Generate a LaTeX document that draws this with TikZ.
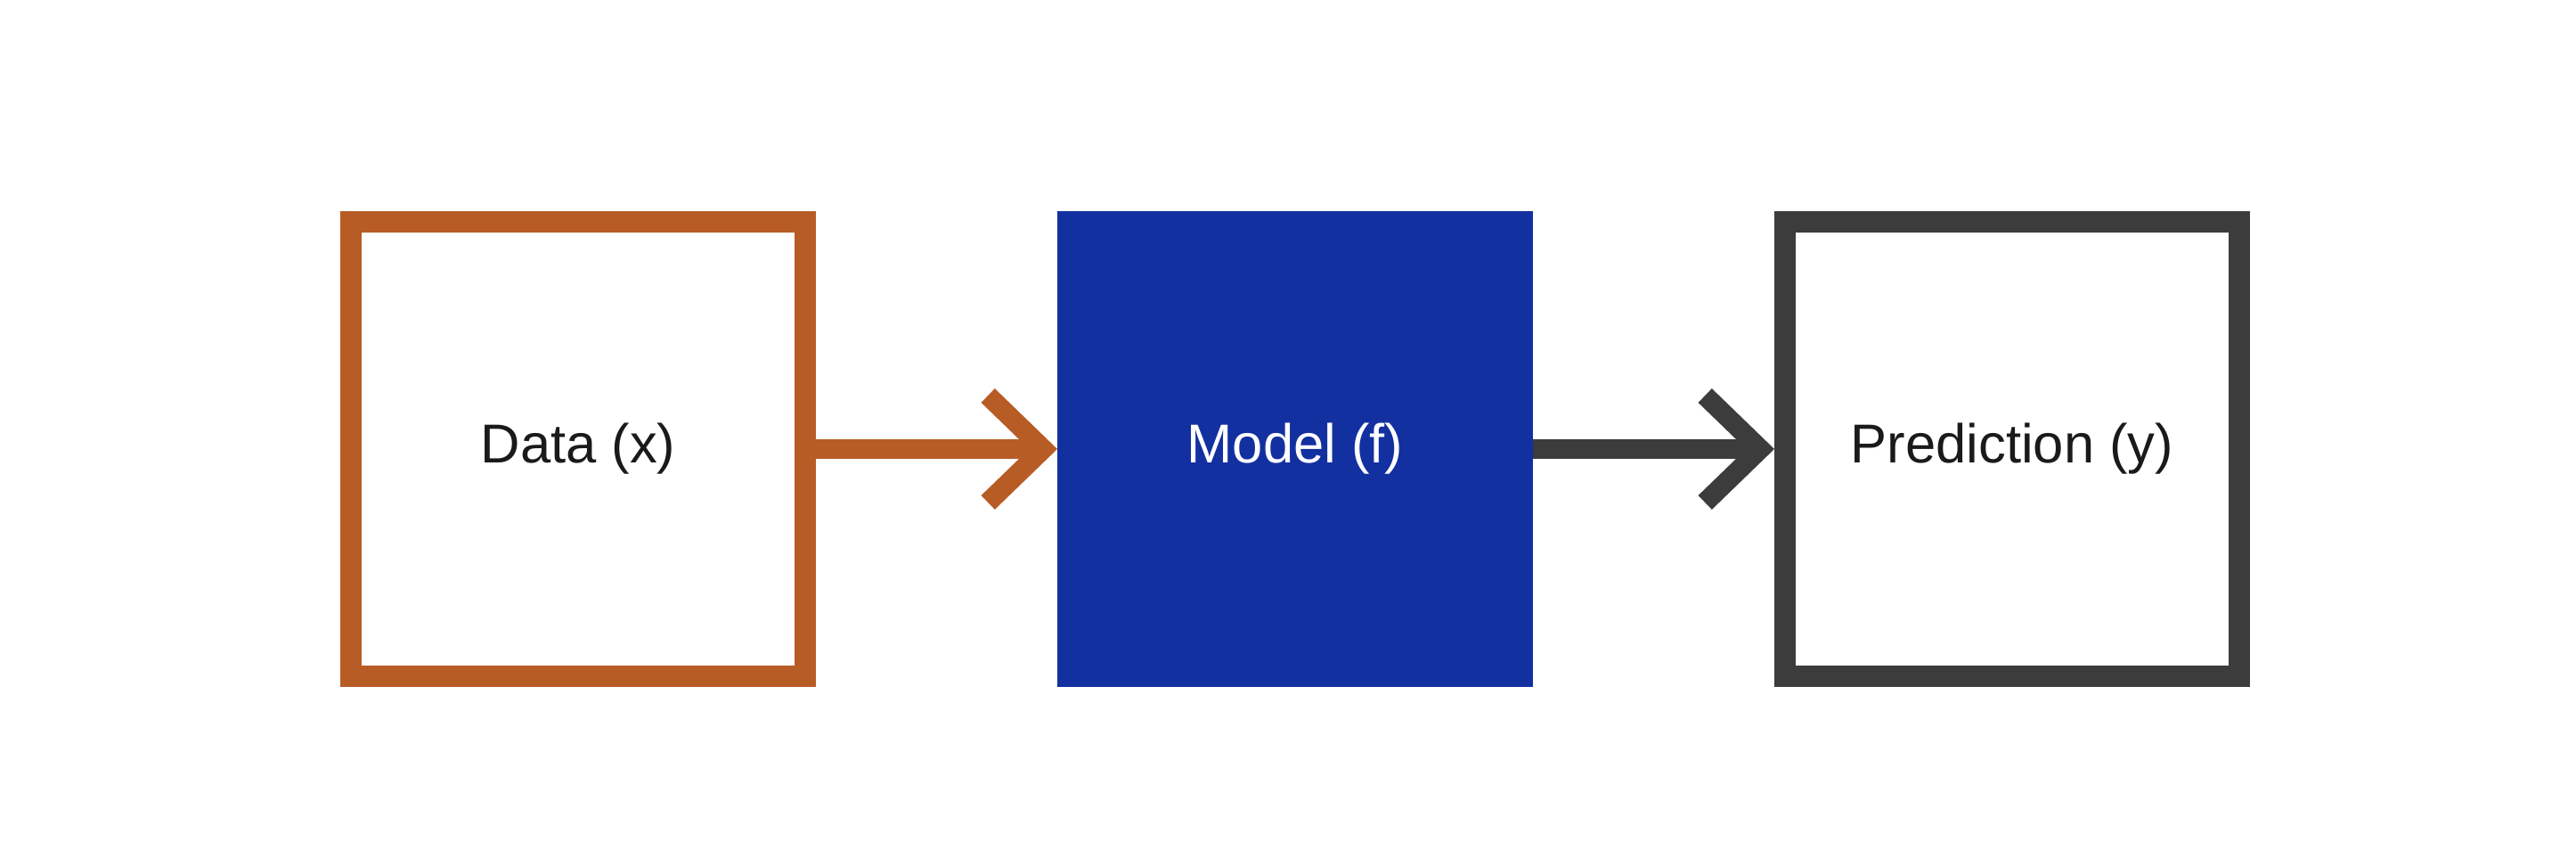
\documentclass[tikz,border=0pt]{standalone}
\usepackage{fontspec}
\setmainfont{Liberation Sans}
\usepackage{tikz}
\usetikzlibrary{arrows.meta,positioning}
\usepackage{xcolor}
\definecolor{dataorange}{RGB}{184,92,38}
\definecolor{modelblue}{RGB}{18,48,160}
\definecolor{predgray}{RGB}{60,60,60}
\definecolor{textblack}{RGB}{26,26,26}

\begin{document}
\begin{tikzpicture}[>={Straight Barb[length=6.2mm,width=12mm,sharp]},
  font=\fontsize{17.5pt}{21pt}\selectfont,
  stagebox/.style={rectangle,line width=2.4mm,minimum size=51mm,inner sep=0pt,text=textblack},
  flow/.style={->,line width=2.2mm}]
\useasboundingbox (0,0) rectangle (28.92,9.54);
\node[stagebox,draw=dataorange,fill=white] (data) at (6.49,4.50) {Data (x)};
\node[stagebox,draw=modelblue,fill=modelblue,text=white,right=27.1mm of data] (model) {Model (f)};
\node[stagebox,draw=predgray,fill=white,right=27.1mm of model] (pred) {Prediction (y)};
\draw[flow,dataorange] (data) -- (model);
\draw[flow,predgray] (model) -- (pred);
\end{tikzpicture}
\end{document}
